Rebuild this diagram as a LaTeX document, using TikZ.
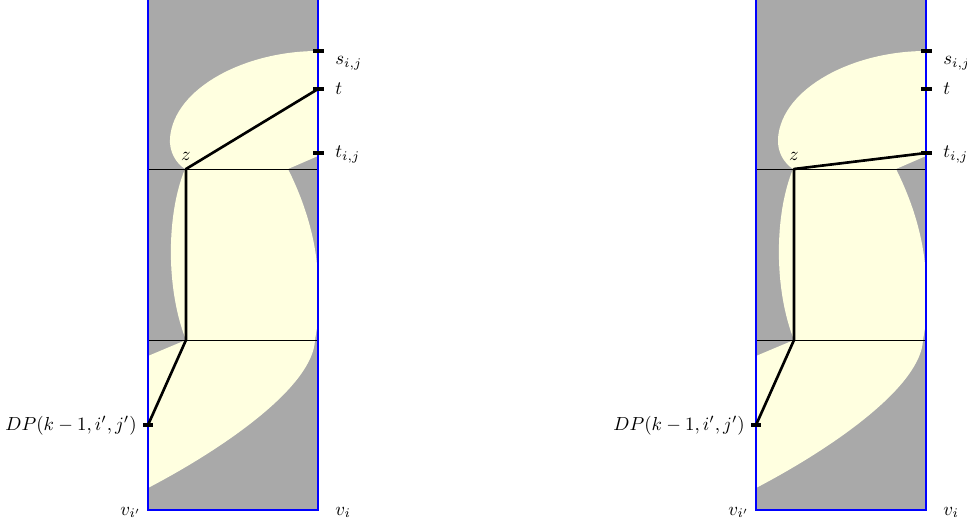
\documentclass[tikz,border=0pt]{standalone}
\usepackage{amsmath}
\usetikzlibrary{positioning}
\definecolor{blocked}{RGB}{169,169,169}
\definecolor{freesp}{RGB}{255,255,224}

\begin{document}
\begin{tikzpicture}[
  x=0.53pt, y=-0.53pt,
  cellbox/.style={draw=blue, line width=0.8pt},
  free/.style={fill=freesp},
  sep/.style={draw=black, line width=0.5pt},
  walk/.style={draw=black, line width=1.4pt, line join=round},
  tick/.style={draw=black, line width=1.7pt},
  lbl/.style={inner sep=0pt, font=\normalsize},
]
  \useasboundingbox (0,0) rectangle (967,524);

  % Left panel: path ends at t
  \begin{scope}
    \fill[blocked] (148,-10) rectangle (318,510);
    % free space, top cell
    \fill[free] (318,51) .. controls (245,51) and (174,88) .. (170,138)
      .. controls (169,152) and (176,163) .. (185,169) -- (288,169) -- (318,156) -- cycle;
    % free space, middle cell
    \fill[free] (185,169) -- (288,169) .. controls (306,205) and (318,245) .. (318,285)
      -- (318,315) .. controls (318,325) and (316,333) .. (315,340) -- (186,340)
      .. controls (166,290) and (166,215) .. (185,169) -- cycle;
    % free space, bottom cell
    \fill[free] (186,340) -- (315,340) .. controls (313,385) and (230,445) .. (148,488)
      -- (148,356) -- cycle;
    \draw[sep] (148,169) -- (318,169);
    \draw[sep] (148,340) -- (318,340);
    \draw[cellbox] (148,-10) rectangle (318,510);

    \coordinate (dpL) at (148,425);
    \coordinate (zbL) at (186,340);
    \coordinate (zL) at (186,169);
    \coordinate (sL) at (318,51);
    \coordinate (tL) at (318,89);
    \coordinate (tijL) at (318,153);

    % ticks
    \draw[tick] (sL) ++(-5,0) -- ++(11,0);
    \draw[tick] (tL) ++(-5,0) -- ++(11,0);
    \draw[tick] (tijL) ++(-5,0) -- ++(11,0);
    \draw[tick] (dpL) ++(-5,0) -- ++(10,0);

    \draw[walk] (dpL) -- (zbL) -- (zL) -- (tL);

    % labels
    \node[lbl, anchor=base] (zlabL) at (186,161) {$z$};
    \node[lbl, anchor=base west] (slabL) at (335,65) {$s_{i,j}$};
    \node[lbl, anchor=base west] (tlabL) at (335,95) {$t$};
    \node[lbl, anchor=base west] (tijlabL) at (335,158) {$t_{i,j}$};
    \node[lbl, anchor=base east] (dplabL) at (137,430) {$DP(k-1,i',j')$};
    \node[lbl, anchor=base west] (vpL) at (120,515) {$v_{i'}$};
    \node[lbl, anchor=base west] (viL) at (335,515) {$v_i$};
  \end{scope}

  % Right panel: path ends at t_{i,j}
  \begin{scope}[shift={(608,0)}]
    \fill[blocked] (148,-10) rectangle (318,510);
    % free space, top cell
    \fill[free] (318,51) .. controls (245,51) and (174,88) .. (170,138)
      .. controls (169,152) and (176,163) .. (185,169) -- (288,169) -- (318,156) -- cycle;
    % free space, middle cell
    \fill[free] (185,169) -- (288,169) .. controls (306,205) and (318,245) .. (318,285)
      -- (318,315) .. controls (318,325) and (316,333) .. (315,340) -- (186,340)
      .. controls (166,290) and (166,215) .. (185,169) -- cycle;
    % free space, bottom cell
    \fill[free] (186,340) -- (315,340) .. controls (313,385) and (230,445) .. (148,488)
      -- (148,356) -- cycle;
    \draw[sep] (148,169) -- (318,169);
    \draw[sep] (148,340) -- (318,340);
    \draw[cellbox] (148,-10) rectangle (318,510);

    \coordinate (dpR) at (148,425);
    \coordinate (zbR) at (186,340);
    \coordinate (zR) at (186,169);
    \coordinate (sR) at (318,51);
    \coordinate (tR) at (318,89);
    \coordinate (tijR) at (318,153);

    % ticks
    \draw[tick] (sR) ++(-5,0) -- ++(11,0);
    \draw[tick] (tR) ++(-5,0) -- ++(11,0);
    \draw[tick] (tijR) ++(-5,0) -- ++(11,0);
    \draw[tick] (dpR) ++(-5,0) -- ++(10,0);

    \draw[walk] (dpR) -- (zbR) -- (zR) -- (tijR);

    % labels
    \node[lbl, anchor=base] (zlabR) at (186,161) {$z$};
    \node[lbl, anchor=base west] (slabR) at (335,65) {$s_{i,j}$};
    \node[lbl, anchor=base west] (tlabR) at (335,95) {$t$};
    \node[lbl, anchor=base west] (tijlabR) at (335,158) {$t_{i,j}$};
    \node[lbl, anchor=base east] (dplabR) at (137,430) {$DP(k-1,i',j')$};
    \node[lbl, anchor=base west] (vpR) at (120,515) {$v_{i'}$};
    \node[lbl, anchor=base west] (viR) at (335,515) {$v_i$};
  \end{scope}
\end{tikzpicture}
\end{document}
